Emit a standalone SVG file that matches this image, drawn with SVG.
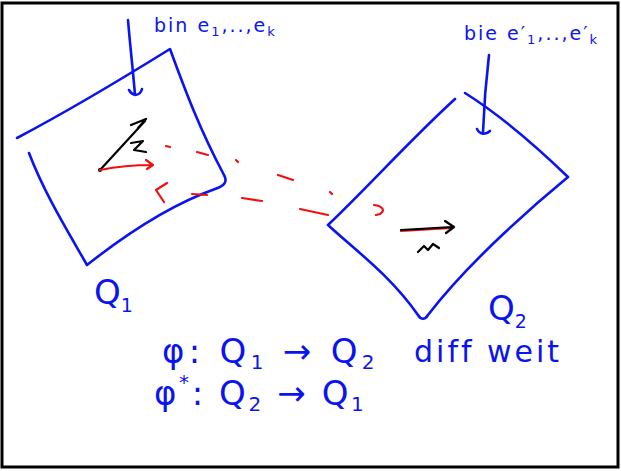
<svg xmlns="http://www.w3.org/2000/svg" width="621" height="471" viewBox="0 0 621 471">
<style>
.b{fill:none;stroke:#0a14f0;stroke-width:2.6;stroke-linecap:round;stroke-linejoin:round}
.r{fill:none;stroke:#f01010;stroke-width:2.2;stroke-linecap:round;stroke-linejoin:round}
.k{fill:none;stroke:#000;stroke-width:2.2;stroke-linecap:round;stroke-linejoin:round}
.t{font-family:"DejaVu Sans","Liberation Sans",sans-serif;fill:#0a14f0}
</style>
<rect x="0" y="0" width="621" height="471" fill="#fff"/>
<rect x="2" y="3" width="616" height="464" fill="none" stroke="#000" stroke-width="3"/>
<g id="Q1">
<path class="b" d="M17,138 C70,110 120,80 170,49 C185,90 200,130 224,175 C228,182 224,186 215,189 C170,205 125,235 87,265 C70,235 45,195 29,153"/>
<path class="b" d="M128,20 C130,45 133,70 135,95 M129,90 C133,97 140,96 142,89"/>
<text class="t" x="94" y="304" font-size="34">Q<tspan font-size="19" dy="8">1</tspan></text>
</g>
<g id="Q2">
<path class="b" d="M455,99 C410,140 370,185 328,225 M465,93 C500,115 540,150 568,177 C540,200 470,260 428,315 C425,320 421,320 418,315 C390,275 355,250 328,225"/>
<path class="b" d="M489,55 C486,80 484,105 483,132 M477,129 C480,135 486,135 490,131"/>
<text class="t" x="488" y="320" font-size="34">Q<tspan font-size="19" dy="8">2</tspan></text>
</g>
<g id="labels">
<text class="t" x="154" y="32" font-size="19" letter-spacing="2">bin e<tspan font-size="13" dy="4">1</tspan><tspan dy="-4">,..,e</tspan><tspan font-size="13" dy="4">k</tspan></text>
<text class="t" x="464" y="40" font-size="19" letter-spacing="2">bie e′<tspan font-size="13" dy="4">1</tspan><tspan dy="-4">,..,e′</tspan><tspan font-size="13" dy="4">k</tspan></text>
<text class="t" x="162" y="363" font-size="34" letter-spacing="4.3">φ: Q<tspan font-size="20" dy="6">1</tspan><tspan dy="-6"> → Q</tspan><tspan font-size="20" dy="6">2</tspan></text>
<text class="t" x="414" y="362" font-size="30" letter-spacing="3">diff weit</text>
<text class="t" x="154" y="405" font-size="34" letter-spacing="2.6">φ<tspan font-size="20" dy="-16">*</tspan><tspan dy="16">: Q</tspan><tspan font-size="20" dy="6">2</tspan><tspan dy="-6"> → Q</tspan><tspan font-size="20" dy="6">1</tspan></text>
</g>
<g id="vectors">
<path class="k" d="M100,170 L145,121 M131,125 L146,119 L138,128 M131,143 L143,141 L134,150 L146,152" />
<circle cx="100" cy="170" r="2" fill="#000"/>
<path class="r" d="M401,231 L452,228"/>
<path class="k" d="M401,230 L452,227 M445,221 L454,227 L446,233 M418,252 L424,246 L428,250 L433,244 L439,248"/>
</g>
<g id="connectors">
<path class="r" d="M100,170 C115,167 135,165 152,165 M146,160 L153,165 L147,169"/>
<path class="r" d="M166,146 L170,147 M197,152 L208,155 M236,160 L238,162 M278,175 L293,180 M330,192 L332,194 M374,205 C382,206 386,210 380,214 L376,215"/>
<path class="r" d="M328,215 L300,209 M262,201 L242,198 M207,195 L192,194 M167,183 L156,190 L164,202"/>
</g>
</svg>
